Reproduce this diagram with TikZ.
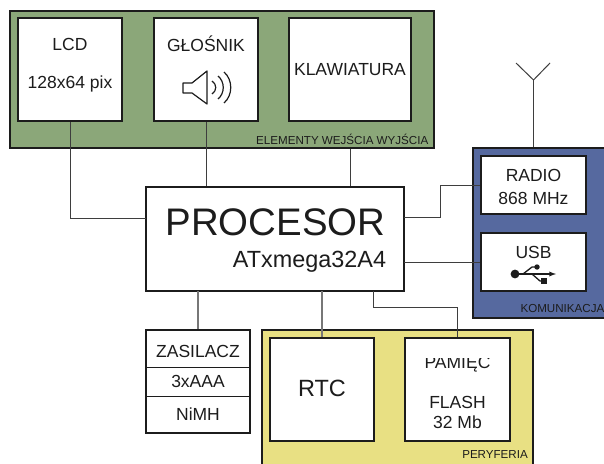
\documentclass[tikz,border=0pt]{standalone}
\usepackage{fontspec}
\setmainfont{Liberation Sans}
\usepackage{tikz}
\definecolor{zielony}{HTML}{8BA779}
\definecolor{niebieski}{HTML}{56699F}
\definecolor{zolty}{HTML}{E8E083}
\definecolor{linia}{HTML}{1C1C1C}
\begin{document}
\begin{tikzpicture}[x=1pt, y=-1pt,
		box/.style={draw=linia, line width=1.6pt, fill=white, inner sep=0pt},
		panel/.style={draw=linia, line width=1.6pt, inner sep=0pt},
		wire/.style={draw=linia!85, line width=1pt},
		wirethick/.style={draw=linia!60, line width=1.4pt},
		txt/.style={font=\fontsize{17.5}{20}\selectfont, text=linia, inner sep=0pt},
		small/.style={font=\fontsize{11.6}{13}\selectfont, text=linia, inner sep=0pt, anchor=east}]
			\useasboundingbox (0, 0) rectangle (604, 463);
			\clip (0, 0) rectangle (604, 463);
			\fill[white] (0, 0) rectangle (604, 463);
			\node[panel, fill=zielony, minimum width=424, minimum height=137] (wewy) at (222, 79.5) {};
			\node[panel, fill=niebieski, minimum width=180, minimum height=170] (komunikacja) at (563, 233) {};
			\node[panel, fill=zolty, minimum width=271, minimum height=160] (peryferia) at (397.5, 410) {};

			\node[box, minimum width=104, minimum height=103] (lcd) at (70, 69.5) {};
			\node[box, minimum width=104, minimum height=103] (glosnik) at (206, 69.5) {};
			\node[box, minimum width=122, minimum height=103] (klawiatura) at (350, 69.5) {};
			\node[box, minimum width=258, minimum height=104] (procesor) at (275, 239) {};
			\node[box, minimum width=105, minimum height=58] (radio) at (533.5, 185) {};
			\node[box, minimum width=105, minimum height=58] (usb) at (533.5, 262) {};
			\node[box, minimum width=104, minimum height=103] (zasilacz) at (198, 381.5) {};
			\node[box, minimum width=104, minimum height=103] (rtc) at (322, 389.5) {};
			\node[box, minimum width=105, minimum height=103] (pamiec) at (457.5, 389.5) {};

			\coordinate (lcdin) at (146, 218);
			\coordinate (radioout) at (404, 217);
			\coordinate (usbout) at (404, 262);
			\coordinate (radiozal) at (440, 217);
			\coordinate (radiogora) at (440, 185);
			\coordinate (zasout) at (198, 291);
			\coordinate (rtcout) at (322, 291);
			\coordinate (pamout) at (373, 291);
			\coordinate (pamzal) at (373, 307);
			\coordinate (pamgora) at (457.5, 307);
			\coordinate (antena) at (533.5, 80);
			\coordinate (antenal) at (516, 63);
			\coordinate (antenap) at (550, 63);

			\draw[wire] (lcd.south) |- (lcdin);
			\draw[wire] (glosnik.south) -- (glosnik.south |- procesor.north);
			\draw[wire] (klawiatura.south |- wewy.south) -- (klawiatura.south |- procesor.north);
			\draw[wire] (radioout) -- (radiozal) -- (radiogora) -- (radio.west);
			\draw[wire] (usbout) -- (usb.west);
			\draw[wirethick] (zasout) -- (zasilacz.north);
			\draw[wirethick] (rtcout) -- (rtc.north);
			\draw[wire] (pamout) -- (pamzal) -- (pamgora) -- (pamiec.north);
			\draw[wire] (radio.north |- komunikacja.north) -- (antena);
			\draw[wire] (antenal) -- (antena) -- (antenap);

			\draw[line width=0.8pt, draw=linia] (146, 367) -- (250, 367) (146, 396) -- (250, 396);

			\node[txt] (lcdt) at (70, 44) {LCD};
			\node[txt] (lcdp) at (70, 84) {128x64 pix};
			\node[txt] (glosnikt) at (206, 44) {GŁOŚNIK};
			\node[txt] (klawiaturat) at (350, 70) {KLAWIATURA};
			\node[txt, font=\fontsize{38.4}{40}\selectfont] (procesort) at (275.5, 222) {PROCESOR};
			\node[txt, font=\fontsize{23.4}{26}\selectfont] (atxmega) at (309.5, 262) {ATxmega32A4};
			\node[txt] (radiot) at (533.5, 175) {RADIO};
			\node[txt] (radiof) at (533.5, 198) {868 MHz};
			\node[txt] (usbt) at (533.5, 252) {USB};
			\node[txt] (zast) at (198, 351) {ZASILACZ};
			\node[txt] (zasa) at (198, 381) {3xAAA};
			\node[txt] (zasn) at (198, 414) {NiMH};
			\node[txt, font=\fontsize{23.5}{26}\selectfont] (rtct) at (322, 388) {RTC};
			\begin{scope}
				\clip (407, 358) rectangle (508, 380);
				\node[txt] (pamiect) at (457.5, 363) {PAMIĘĆ};
			\end{scope}
			\node[txt] (flash) at (457.5, 402) {FLASH};
			\node[txt] (flashm) at (457.5, 422) {32 Mb};
			\node[small] (wewyt) at (428.5, 139) {ELEMENTY WEJŚCIA WYJŚCIA};
			\node[small] (komt) at (604.5, 309) {KOMUNIKACJA};
			\node[small] (pert) at (528, 455) {PERYFERIA};

			\draw[line width=1.2pt, draw=linia, line join=round]
				(183, 83) -- (192, 83) -- (207, 71) -- (207, 104) -- (192, 93) -- (183, 93) -- cycle;
			\foreach \x/\h/\b in {212/6.5/5, 218/11.5/7, 224/15.5/9}
				\draw[line width=1.2pt, draw=linia] ({\x}, {87.5-\h}) .. controls ({\x+\b}, {87.5-\h/2}) and ({\x+\b}, {87.5+\h/2}) .. ({\x}, {87.5+\h});

			\fill[linia] (515, 274) circle (4.4);
			\draw[line width=1.3pt, draw=linia, -{latex}] (515, 274) -- (556, 274);
			\draw[line width=1.3pt, draw=linia] (523, 274) -- (532, 267) -- (537, 267);
			\draw[line width=1.3pt, draw=linia] (532, 274) -- (540, 281) -- (544, 281);
			\fill[linia] (537, 267) circle (2.7);
			\fill[linia] (541, 278) rectangle (547, 284);
		\end{tikzpicture}
\end{document}
